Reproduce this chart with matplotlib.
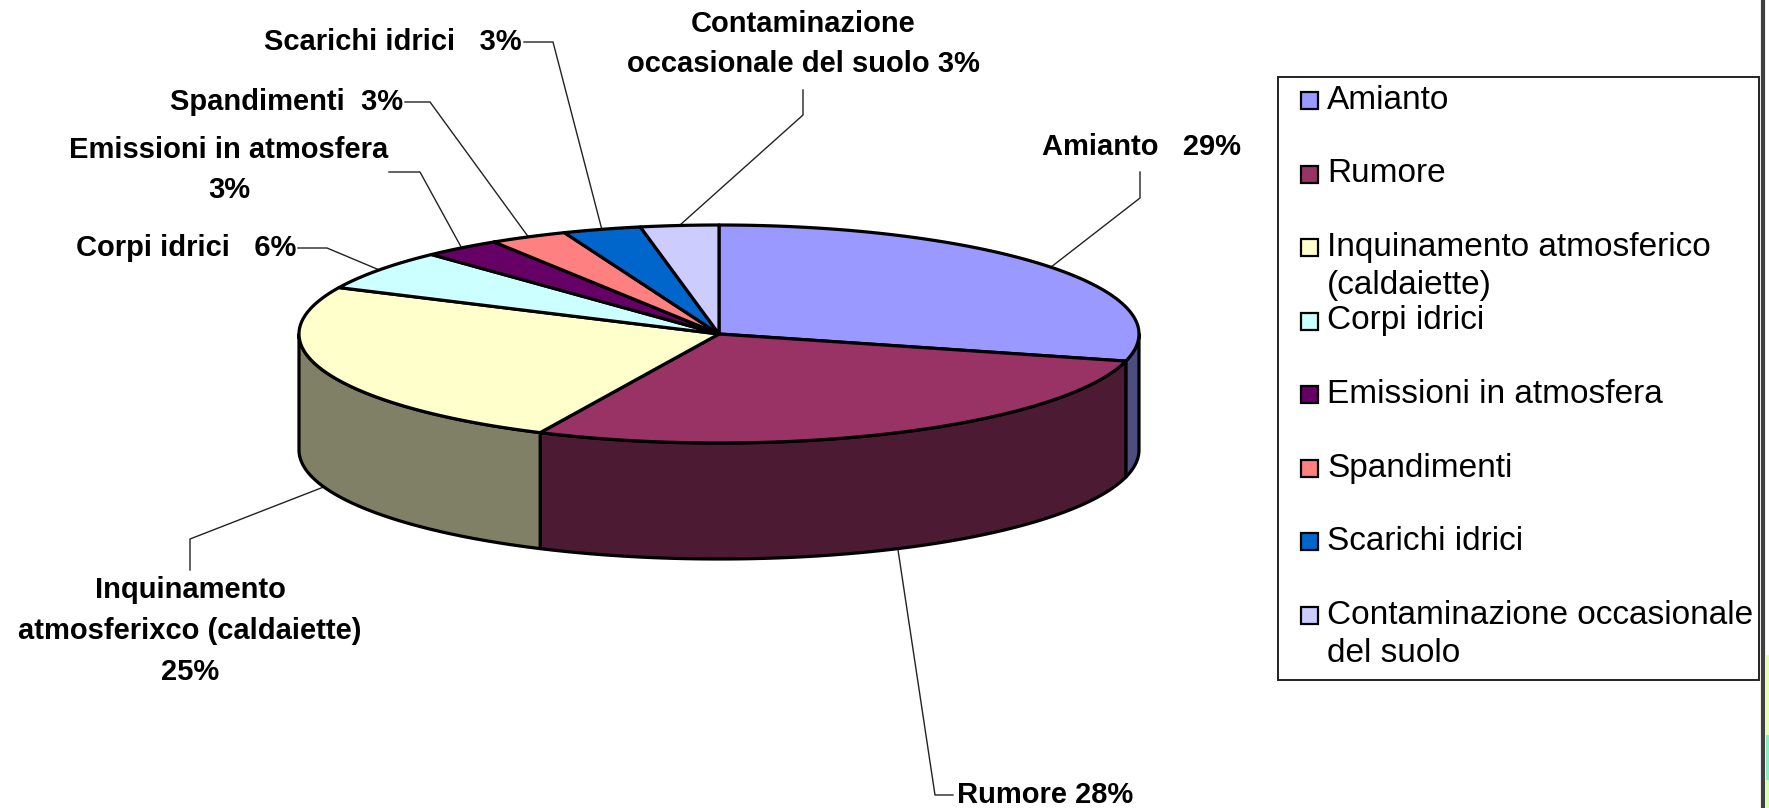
import numpy as np
import matplotlib
matplotlib.use("Agg")
import matplotlib.pyplot as plt
from matplotlib import font_manager as fm
from matplotlib.patches import Polygon, Rectangle
from matplotlib.colors import to_rgb

# ---- data -------------------------------------------------------------
categories = ["Amianto", "Rumore", "Inquinamento atmosferico\n(caldaiette)",
              "Corpi idrici", "Emissioni in atmosfera", "Spandimenti",
              "Scarichi idrici", "Contaminazione occasionale\ndel suolo"]
shares = [29, 28, 25, 6, 3, 3, 3, 3]
slice_labels = ["Amianto   29%", "Rumore 28%",
                "Inquinamento\natmosferixco (caldaiette)\n25%",
                "Corpi idrici   6%", "Emissioni in atmosfera\n3%",
                "Spandimenti  3%", "Scarichi idrici   3%",
                "Contaminazione\noccasionale del suolo 3%"]
colors = ["#9999FF", "#993366", "#FFFFCC", "#CCFFFF",
          "#660066", "#FF8080", "#0066CC", "#CCCCFF"]


def pick_font(*names):
    for n in names:
        try:
            fm.findfont(fm.FontProperties(family=n), fallback_to_default=False)
            return n
        except ValueError:
            continue
    return "DejaVu Sans"


label_font = pick_font("Liberation Sans Narrow", "Arial Narrow", "Liberation Sans")
legend_font = pick_font("Liberation Sans", "Arial", "DejaVu Sans")

W, H = 1769, 808
fig = plt.figure(figsize=(W / 100, H / 100), dpi=100)
ax = fig.add_axes([0, 0, 1, 1])
ax.set_xlim(0, W)
ax.set_ylim(H, 0)
ax.axis("off")

# pie geometry (pixel space, y downwards)
cx, cy = 719, 334
ra, rb = 420, 109
depth = 116


def pt(theta_deg, dz=0.0):
    t = np.radians(theta_deg)
    return cx + ra * np.cos(t), cy - rb * np.sin(t) + dz


def arc(t1, t2, dz=0.0, n=None):
    n = n or max(4, int(abs(t2 - t1) * 1.5))
    ts = np.radians(np.linspace(t1, t2, n))
    return np.column_stack([cx + ra * np.cos(ts), cy - rb * np.sin(ts) + dz])


fracs = np.array(shares, dtype=float) / sum(shares)
sweeps = fracs * 360.0
starts = 90.0 - np.concatenate([[0], np.cumsum(sweeps)[:-1]])
ends = starts - sweeps


def darker(c, f=0.5):
    r, g, b = to_rgb(c)
    return (r * f, g * f, b * f)


# side walls of the front half
for s, e, c in zip(starts, ends, colors):
    for k in (-1, 0, 1):
        lo, hi = -180 + 360 * k, 0 + 360 * k
        a1, a2 = max(e, lo), min(s, hi)
        if a2 - a1 > 1e-6:
            top = arc(a2, a1)
            bot = arc(a1, a2, dz=depth)
            ax.add_patch(Polygon(np.vstack([top, bot]), closed=True,
                                 facecolor=darker(c), edgecolor="black",
                                 linewidth=2.3, joinstyle="round", zorder=2))

# top faces
for s, e, c in zip(starts, ends, colors):
    pts = np.vstack([[cx, cy], arc(s, e)])
    ax.add_patch(Polygon(pts, closed=True, facecolor=c, edgecolor="black",
                         linewidth=2.3, joinstyle="round", zorder=3))

# data labels with leader lines
mids = (starts + ends) / 2.0
label_specs = [
    # (text x, text y, ha, leader path before the pie anchor)
    (1141, 147, "center", [(1140, 172), (1140, 198)]),
    (957, 795, "left", [(953, 795), (935, 795)]),
    (190, 631, "center", [(190, 570), (190, 539)]),
    (296, 248, "right", [(298, 248), (327, 248)]),
    (229, 170, "center", [(389, 172), (420, 172)]),
    (403, 102, "right", [(405, 102), (430, 102)]),
    (522, 42, "right", [(524, 42), (553, 42)]),
    (803, 44, "center", [(803, 90), (803, 115)]),
]

for lab, m, (tx, ty, ha, path) in zip(slice_labels, mids, label_specs):
    front = np.sin(np.radians(m)) < 0
    px, py = pt(m, depth if front else 0.0)
    xs = [p[0] for p in path] + [px]
    ys = [p[1] for p in path] + [py]
    ax.plot(xs, ys, color="#222222", linewidth=1.0, zorder=1)
    ax.text(tx, ty, lab, ha=ha, va="center", fontsize=21, fontweight="bold",
            family=label_font, linespacing=1.58, multialignment="center",
            zorder=4)

# legend
lx0, ly0, lx1, ly1 = 1278, 77, 1759, 680
ax.add_patch(Rectangle((lx0, ly0), lx1 - lx0, ly1 - ly0, facecolor="white",
                       edgecolor="#222222", linewidth=1.4, zorder=5))
base0, step = 109, 73.5
for i, (name, c) in enumerate(zip(categories, colors)):
    yb = base0 + i * step
    ax.add_patch(Rectangle((1301, yb - 17), 17, 17, facecolor=c,
                           edgecolor="black", linewidth=1.6, zorder=6))
    for j, line in enumerate(name.split("\n")):
        ax.text(1327, yb + j * 38, line, ha="left", va="baseline",
                fontsize=24, family=legend_font, zorder=6)

# slide frame on the right
ax.plot([1763, 1763], [0, H], color="#404040", linewidth=3, zorder=7)
ax.add_patch(Rectangle((1765.5, 655), 4, 80, facecolor="#E6FFB8",
                       edgecolor="none", zorder=7))
ax.add_patch(Rectangle((1765.5, 735), 4, 45, facecolor="#8EEEC0",
                       edgecolor="none", zorder=7))
ax.add_patch(Rectangle((1765.5, 780), 4, 28, facecolor="#D8FFB0",
                       edgecolor="none", zorder=7))

fig.savefig("out.png", dpi=100, facecolor="white")
